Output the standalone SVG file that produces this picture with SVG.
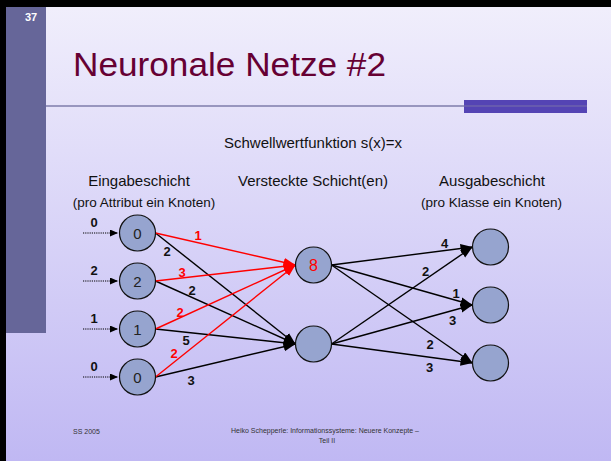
<svg xmlns="http://www.w3.org/2000/svg" width="611" height="461" viewBox="0 0 611 461">
<defs>
<linearGradient id="bg" x1="0" y1="0" x2="0" y2="1">
<stop offset="0" stop-color="#f1effc"/>
<stop offset="1" stop-color="#c0b8f3"/>
</linearGradient>
<marker id="ab" markerUnits="userSpaceOnUse" markerWidth="13" markerHeight="10" refX="12" refY="4.5" orient="auto"><path d="M0,0 L12,4.5 L0,9 z" fill="#000"/></marker>
<marker id="ar" markerUnits="userSpaceOnUse" markerWidth="13" markerHeight="10" refX="12" refY="4.5" orient="auto"><path d="M0,0 L12,4.5 L0,9 z" fill="#ff0000"/></marker>
<marker id="as" markerUnits="userSpaceOnUse" markerWidth="9" markerHeight="8" refX="8" refY="3.5" orient="auto"><path d="M0,0 L8,3.5 L0,7 z" fill="#000"/></marker>
</defs>
<style>
text{font-family:"Liberation Sans",Arial,sans-serif;}
.node{fill:#96a4cf;stroke:#111;stroke-width:1.2;}
.nt{font-size:15px;text-anchor:middle;fill:#222;}
.hd{font-size:15px;text-anchor:middle;fill:#111;}
.sub{font-size:13.5px;text-anchor:middle;fill:#111;}
.w{font-size:13px;font-weight:bold;text-anchor:middle;fill:#111;}
.wr{font-size:13px;font-weight:bold;text-anchor:middle;fill:#ff0000;}
.eb{stroke:#000;stroke-width:1.4;fill:none;marker-end:url(#ab);}
.er{stroke:#ff0000;stroke-width:1.4;fill:none;marker-end:url(#ar);}
.ein{stroke:#000;stroke-width:1;stroke-dasharray:1.2 1;fill:none;marker-end:url(#as);}
.ft{font-size:7px;fill:#333;}
</style>
<rect x="0" y="0" width="611" height="461" fill="url(#bg)"/>
<rect x="0" y="0" width="611" height="7" fill="#000"/>
<rect x="0" y="0" width="6" height="461" fill="#000"/>
<rect x="6" y="7" width="40" height="326" fill="#666699"/>
<text x="25" y="21" font-size="11" font-weight="bold" fill="#fff">37</text>
<text x="73" y="76" font-size="34" fill="#660033" textLength="313" lengthAdjust="spacingAndGlyphs">Neuronale Netze #2</text>
<line x1="46" y1="106" x2="587" y2="106" stroke="#9896bf" stroke-width="2"/>
<rect x="464" y="100" width="123" height="13" fill="#5444b4"/>
<line x1="464" y1="106" x2="587" y2="106" stroke="#6c62ae" stroke-width="1.5"/>

<text x="313" y="148" class="hd">Schwellwertfunktion s(x)=x</text>
<text x="139" y="186" class="hd">Eingabeschicht</text>
<text x="144" y="207" class="sub">(pro Attribut ein Knoten)</text>
<text x="313" y="186" class="hd">Versteckte Schicht(en)</text>
<text x="492" y="186" class="hd">Ausgabeschicht</text>
<text x="491.5" y="207" class="sub">(pro Klasse ein Knoten)</text>

<g id="connectors">
<line class="ein" x1="83" y1="233" x2="118" y2="233"/>
<line class="ein" x1="83" y1="281" x2="118" y2="281"/>
<line class="ein" x1="83" y1="329" x2="118" y2="329"/>
<line class="ein" x1="83" y1="377" x2="118" y2="377"/>
<line class="eb" x1="155.5" y1="233" x2="295.5" y2="344"/>
<line class="eb" x1="155.5" y1="281" x2="295.5" y2="344"/>
<line class="eb" x1="155.5" y1="329" x2="295.5" y2="344"/>
<line class="eb" x1="155.5" y1="377" x2="295.5" y2="344"/>
<line class="er" x1="155.5" y1="233" x2="295.5" y2="265"/>
<line class="er" x1="155.5" y1="281" x2="295.5" y2="265"/>
<line class="er" x1="155.5" y1="329" x2="295.5" y2="265"/>
<line class="er" x1="155.5" y1="377" x2="295.5" y2="265"/>
<line class="eb" x1="331.5" y1="265" x2="472.5" y2="247"/>
<line class="eb" x1="331.5" y1="265" x2="472.5" y2="305"/>
<line class="eb" x1="331.5" y1="265" x2="472.5" y2="363"/>
<line class="eb" x1="331.5" y1="344" x2="472.5" y2="247"/>
<line class="eb" x1="331.5" y1="344" x2="472.5" y2="305"/>
<line class="eb" x1="331.5" y1="344" x2="472.5" y2="363"/>
</g>

<g id="labels">
<text x="94" y="227" class="w">0</text>
<text x="94" y="275" class="w">2</text>
<text x="94" y="323" class="w">1</text>
<text x="94" y="371" class="w">0</text>
<text x="198" y="240" class="wr">1</text>
<text x="182" y="277" class="wr">3</text>
<text x="180" y="317" class="wr">2</text>
<text x="174" y="358" class="wr">2</text>
<text x="167" y="256" class="w">2</text>
<text x="192" y="295" class="w">2</text>
<text x="186" y="345" class="w">5</text>
<text x="191" y="385" class="w">3</text>
<text x="444.5" y="248" class="w">4</text>
<text x="425.5" y="276" class="w">2</text>
<text x="456" y="298" class="w">1</text>
<text x="452.5" y="325" class="w">3</text>
<text x="430" y="349" class="w">2</text>
<text x="429.5" y="372" class="w">3</text>
</g>

<g id="in1"><circle class="node" cx="137.5" cy="233" r="18"/><text x="137.5" y="238.5" class="nt">0</text></g>
<g id="in2"><circle class="node" cx="137.5" cy="281" r="18"/><text x="137.5" y="286.5" class="nt">2</text></g>
<g id="in3"><circle class="node" cx="137.5" cy="329" r="18"/><text x="137.5" y="334.5" class="nt">1</text></g>
<g id="in4"><circle class="node" cx="137.5" cy="377" r="18"/><text x="137.5" y="382.5" class="nt">0</text></g>
<g id="h1"><circle class="node" cx="313.5" cy="265" r="18"/><text x="313.5" y="271" class="nt" fill="#ff0000" style="fill:#ff0000;font-size:16px">8</text></g>
<g id="h2"><circle class="node" cx="313.5" cy="344" r="18"/></g>
<g id="o1"><circle class="node" cx="490.5" cy="247" r="18"/></g>
<g id="o2"><circle class="node" cx="490.5" cy="305" r="18"/></g>
<g id="o3"><circle class="node" cx="490.5" cy="363" r="18"/></g>

<text x="73" y="433.5" class="ft">SS 2005</text>
<text x="325" y="433" class="ft" text-anchor="middle">Heiko Schepperle: Informationssysteme: Neuere Konzepte –</text>
<text x="327" y="443" class="ft" text-anchor="middle">Teil II</text>
</svg>
